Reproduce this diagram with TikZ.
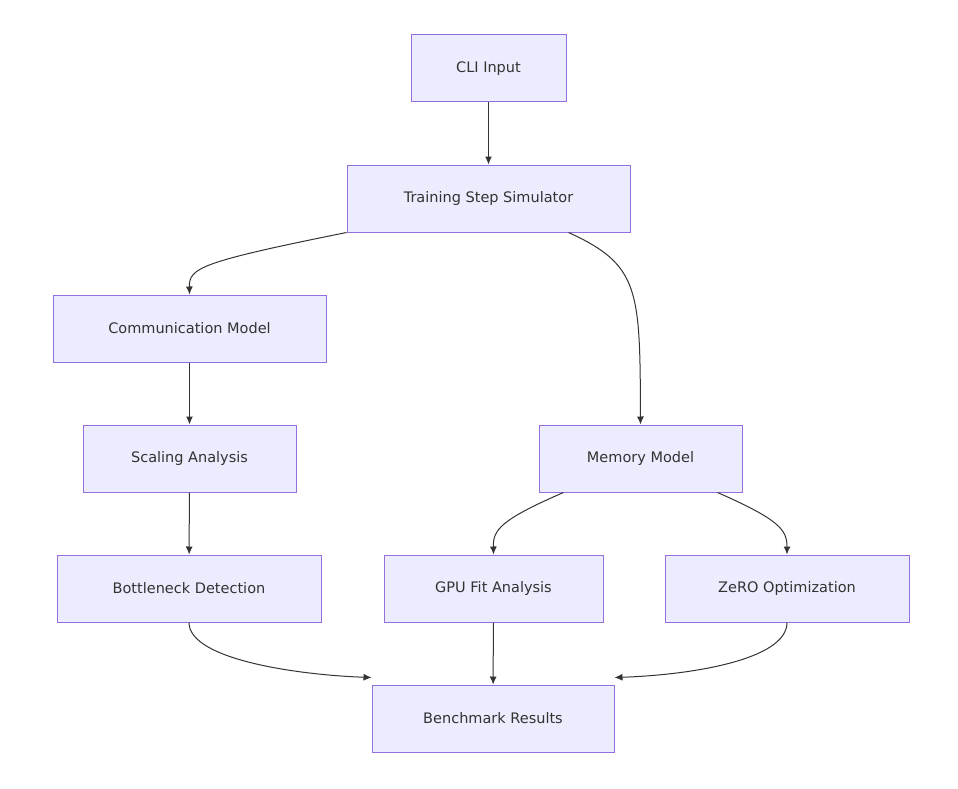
\documentclass[tikz,border=0pt]{standalone}
\usepackage{fontspec}
\setmainfont{DejaVu Sans}
\usetikzlibrary{arrows.meta, positioning}
\definecolor{boxfill}{HTML}{ECECFF}
\definecolor{boxline}{HTML}{9370DB}
\definecolor{inkgray}{HTML}{333333}
\tikzset{
    stage/.style={draw=boxline, fill=boxfill, line width=1pt, minimum height=67pt,
        text=inkgray, font=\fontsize{14.5}{17}\selectfont, anchor=center},
    flow/.style={-{Latex[length=8pt,width=7pt]}, draw=inkgray, line width=1pt} }

\begin{document}
\begin{tikzpicture}[x=1pt, y=-1pt]
			\useasboundingbox (0,0) rectangle (958,789);
			\node[stage, minimum width=155pt] (cli) at (488.5,68.5) {CLI Input};
			\node[stage, minimum width=283pt] (sim) at (488.5,198.5) {Training Step Simulator};
			\node[stage, minimum width=273pt] (comm) at (189.5,328.5) {Communication Model};
			\node[stage, minimum width=213pt] (scale) at (189.5,458.5) {Scaling Analysis};
			\node[stage, minimum width=203pt] (mem) at (640.5,458.5) {Memory Model};
			\node[stage, minimum width=264pt] (bottle) at (189,588.5) {Bottleneck Detection};
			\node[stage, minimum width=219pt] (gpu) at (493.5,588.5) {GPU Fit Analysis};
			\node[stage, minimum width=244pt] (zero) at (787,588.5) {ZeRO Optimization};
			\node[stage, minimum width=242pt] (bench) at (493,718.5) {Benchmark Results};
			% ----
			\draw[flow] (cli) -- (sim);
			\draw[flow] (sim.south west) .. controls (200,262) and (189,268) .. (comm.north);
			\draw[flow] ([xshift=80pt]sim.south) .. controls (640,265) and (640,290) .. (mem.north);
			\draw[flow] (comm) -- (scale);
			\draw[flow] (scale) -- (bottle);
			\draw[flow] ([xshift=-77pt]mem.south) .. controls (500,520) and (493,530) .. (gpu.north);
			\draw[flow] ([xshift=77pt]mem.south) .. controls (780,520) and (787,530) .. (zero.north);
			\draw[flow] (bottle.south) .. controls (189,660) and (300,675) .. ([yshift=7pt]bench.north west);
			\draw[flow] (gpu) -- (bench);
			\draw[flow] (zero.south) .. controls (787,660) and (690,675) .. ([yshift=7pt]bench.north east);
		\end{tikzpicture}
\end{document}
